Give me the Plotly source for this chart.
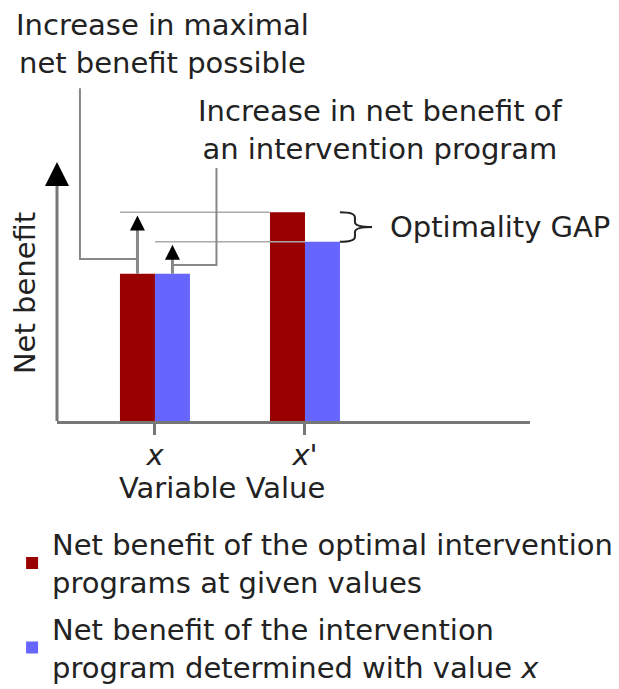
import plotly.graph_objects as go

categories = ["<i>x</i>", "<i>x'</i>"]
optimal_benefit = [5.75, 8.15]
program_benefit = [5.75, 7.0]
series_names = [
    "Net benefit of the optimal intervention<br>programs at given values",
    "Net benefit of the intervention<br>program determined with value <i>x</i>",
]
colors = ["#990000", "#6666ff"]

FONT = "DejaVu Sans"
TEXT = "#222222"
AXIS = "#777777"
X_RANGE = [-0.653, 2.5]
Y_RANGE = [0, 10]
BAR_W = 0.2333


def px_x(v):
    return (v - X_RANGE[0]) / (X_RANGE[1] - X_RANGE[0])


def px_y(v):
    return (v - Y_RANGE[0]) / (Y_RANGE[1] - Y_RANGE[0])


positions = list(range(len(categories)))
fig = go.Figure()
for name, values, color, offset in zip(series_names, (optimal_benefit, program_benefit), colors, (-BAR_W, 0)):
    fig.add_bar(x=positions, y=values, name=name, marker={"color": color, "line": {"width": 0}},
                width=BAR_W, offset=offset, legendgroup=name)

shapes = []
annotations = []

# y axis: gray shaft + black arrow head
shapes.append(dict(type="line", xref="paper", yref="paper", x0=0, y0=0, x1=0, y1=0.96,
                   line={"color": AXIS, "width": 3}))
annotations.append(dict(xref="paper", yref="paper", x=0, y=1.012, ax=0, ay=22, showarrow=True,
                        arrowhead=2, arrowsize=1.6, arrowwidth=3, arrowcolor="black", text=""))

# gray reference lines at the tops of the x' bars
shapes.append(dict(type="line", xref="paper", yref="paper",
                   x0=px_x(positions[0] - BAR_W), x1=px_x(positions[1] - BAR_W),
                   y0=px_y(optimal_benefit[1]), y1=px_y(optimal_benefit[1]),
                   line={"color": "#aaaaaa", "width": 1.5}))
shapes.append(dict(type="line", xref="paper", yref="paper",
                   x0=px_x(positions[0]), x1=px_x(positions[1]),
                   y0=px_y(program_benefit[1]), y1=px_y(program_benefit[1]),
                   line={"color": "#aaaaaa", "width": 1.5}))

# increase arrows on the x bars
for xc, y_from, y_to in ((positions[0] - BAR_W / 2, optimal_benefit[0], optimal_benefit[1]),
                         (positions[0] + BAR_W / 2, program_benefit[0], program_benefit[1])):
    shapes.append(dict(type="line", xref="paper", yref="paper", x0=px_x(xc), x1=px_x(xc),
                       y0=px_y(y_from), y1=px_y(y_to) - 0.03, line={"color": "#888888", "width": 3}))
    annotations.append(dict(xref="paper", yref="paper", x=px_x(xc), y=px_y(y_to) - 0.012,
                            ax=0, ay=12, showarrow=True, arrowhead=2, arrowsize=1.2,
                            arrowwidth=2.5, arrowcolor="black", text=""))

# connector lines to the labels
c1_x = px_x(-0.5)
c1_y = px_y(6.33)
shapes.append(dict(type="path", xref="paper", yref="paper",
                   path=f"M {c1_x},1.30 L {c1_x},{c1_y} L {px_x(positions[0] - BAR_W / 2)},{c1_y}",
                   line={"color": "#888888", "width": 2}))
c2_x = px_x(0.41)
c2_y = px_y(6.09)
shapes.append(dict(type="path", xref="paper", yref="paper",
                   path=f"M {c2_x},0.988 L {c2_x},{c2_y} L {px_x(positions[0] + BAR_W / 2)},{c2_y}",
                   line={"color": "#888888", "width": 2}))

annotations.append(dict(xref="paper", yref="paper", x=0.224, y=1.472, showarrow=False,
                        text="Increase in maximal<br>net benefit possible", xanchor="center", yanchor="middle"))
annotations.append(dict(xref="paper", yref="paper", x=0.683, y=1.137, showarrow=False,
                        text="Increase in net benefit of<br>an intervention program", xanchor="center", yanchor="middle"))

# brace marking the optimality gap
top, bot = px_y(optimal_benefit[1]), px_y(program_benefit[1])
mid = (top + bot) / 2
d = 0.02
x0, xm, x1 = px_x(1.233), px_x(1.333), px_x(1.447)
brace = (f"M {x0},{top} Q {xm},{top} {xm},{top - d} L {xm},{mid + d} Q {xm},{mid} {x1},{mid} "
         f"Q {xm},{mid} {xm},{mid - d} L {xm},{bot + d} Q {xm},{bot} {x0},{bot}")
shapes.append(dict(type="path", xref="paper", yref="paper", path=brace,
                   line={"color": "#222222", "width": 2}))
annotations.append(dict(xref="paper", yref="paper", x=px_x(1.553), y=mid, showarrow=False,
                        text="Optimality GAP", xanchor="left", yanchor="middle"))

annotations.append(dict(xref="paper", yref="paper", x=px_x(0.45), y=-0.262, showarrow=False,
                        text="Variable Value", xanchor="center", yanchor="middle"))

fig.update_xaxes(range=X_RANGE, tickvals=positions, ticktext=categories, showgrid=False, zeroline=False,
                 showline=True, linecolor=AXIS, linewidth=3, ticks="outside", ticklen=11, tickwidth=3,
                 tickcolor=AXIS, tickfont={"size": 29}, ticklabelstandoff=-5, fixedrange=True)
fig.update_yaxes(range=Y_RANGE, showgrid=False, zeroline=False, showline=False, showticklabels=False,
                 title={"text": "Net benefit", "standoff": 16, "font": {"size": 29}}, fixedrange=True)
# the page body keeps an 8px margin, so the figure is 8px smaller than the window
fig.update_layout(
    width=611, height=681, barmode="overlay",
    margin={"l": 49, "r": 89, "t": 157, "b": 268, "autoexpand": False},
    font={"family": FONT, "size": 29, "color": TEXT},
    plot_bgcolor="white", paper_bgcolor="white",
    shapes=shapes, annotations=annotations,
    showlegend=True,
    legend={"x": -0.095, "y": -0.382, "xanchor": "left", "yanchor": "top", "font": {"size": 29},
            "tracegroupgap": 6, "bgcolor": "rgba(0,0,0,0)"},
)
fig.write_html("out.html")
